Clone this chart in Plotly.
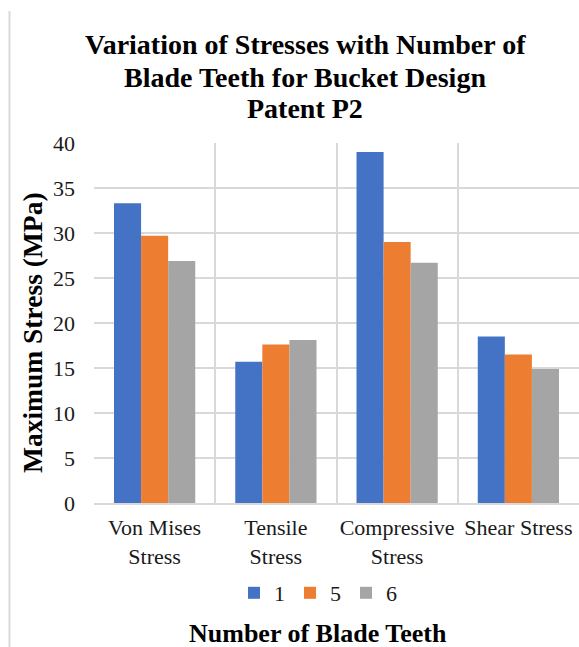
import plotly.graph_objects as go

# Stress type categories and maximum stress (MPa) for each blade-teeth count
categories = ["Von Mises<br>Stress", "Tensile<br>Stress", "Compressive<br>Stress", "Shear Stress"]
teeth_counts = ["1", "5", "6"]
stress_teeth_1 = [33.3, 15.7, 39.0, 18.5]
stress_teeth_5 = [29.7, 17.6, 29.0, 16.5]
stress_teeth_6 = [26.9, 18.1, 26.7, 14.9]
y_ticks = [0, 5, 10, 15, 20, 25, 30, 35, 40]

colors = ["#4472C4", "#ED7D31", "#A5A5A5"]
series = [stress_teeth_1, stress_teeth_5, stress_teeth_6]

W, H = 579, 647
L, R, T, B = 94, 0, 143, 144
PW, PH = W - L - R, H - T - B

def px(x):
    return (x - L) / PW

def py(y):
    return (H - B - y) / PH

SERIF = "Liberation Serif"

fig = go.Figure()
for name, vals, col in zip(teeth_counts, series, colors):
    fig.add_trace(go.Bar(x=categories, y=vals, name=name, marker_color=col,
                         marker_line_width=0))

title_lines = ["Variation of Stresses with Number of",
               "Blade Teeth for Bucket Design",
               "Patent P2"]
title_y = [44, 77, 109]
annotations = []
for txt, yy in zip(title_lines, title_y):
    annotations.append(dict(text="<b>%s</b>" % txt, x=px(305), y=py(yy),
                            xref="paper", yref="paper", showarrow=False,
                            xanchor="center", yanchor="middle",
                            font=dict(family=SERIF, size=28, color="#000000")))
annotations.append(dict(text="<b>Maximum Stress (MPa)</b>", x=px(32), y=py(333),
                        xref="paper", yref="paper", showarrow=False, textangle=-90,
                        xanchor="center", yanchor="middle",
                        font=dict(family=SERIF, size=27.5, color="#000000")))
annotations.append(dict(text="<b>Number of Blade Teeth</b>", x=px(318), y=py(633),
                        xref="paper", yref="paper", showarrow=False,
                        xanchor="center", yanchor="middle",
                        font=dict(family=SERIF, size=26, color="#000000")))

fig.update_layout(
    width=W, height=H,
    margin=dict(l=L, r=R, t=T, b=B, pad=0),
    paper_bgcolor="white", plot_bgcolor="white",
    barmode="group", bargap=0.33, bargroupgap=0,
    font=dict(family=SERIF, size=22, color="#1a1a1a"),
    showlegend=True,
    legend=dict(orientation="h", x=px(318), y=py(593), xanchor="center",
                yanchor="middle", font=dict(family=SERIF, size=22, color="#1a1a1a"),
                bgcolor="rgba(0,0,0,0)"),
    annotations=annotations,
    shapes=[dict(type="line", xref="paper", yref="paper",
                 x0=px(9.5), x1=px(9.5), y0=py(11), y1=py(H),
                 line=dict(color="#d9d9d9", width=2))],
)

fig.update_xaxes(showgrid=True, gridcolor="#d9d9d9", gridwidth=1.5,
                 tickson="boundaries", ticks="", showline=True,
                 linecolor="#d9d9d9", linewidth=1.5, tickangle=0,
                 tickfont=dict(family=SERIF, size=22, color="#1a1a1a"),
                 ticklabelstandoff=4)
fig.update_yaxes(range=[0, 40], tickvals=y_ticks, showgrid=True,
                 gridcolor="#d9d9d9", gridwidth=1.5, zeroline=False,
                 showline=False, ticks="",
                 tickfont=dict(family=SERIF, size=22, color="#1a1a1a"),
                 ticklabelstandoff=18)

fig.write_html("out.html")
